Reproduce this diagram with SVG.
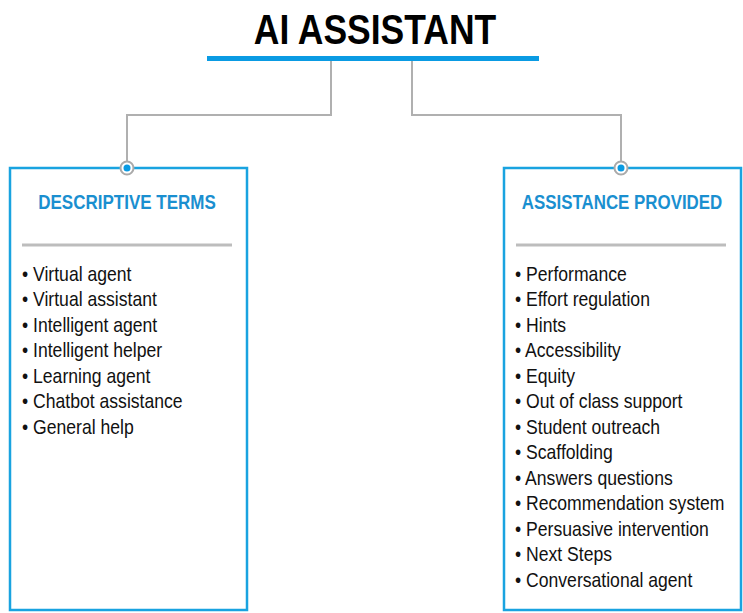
<svg xmlns="http://www.w3.org/2000/svg" width="743" height="613" viewBox="0 0 743 613">
<style>
.title{font-family:"Liberation Sans",Arial,sans-serif;font-weight:bold;font-size:43px;fill:#000}
.head{font-family:"Liberation Sans",Arial,sans-serif;font-weight:bold;font-size:21px;fill:#1a8fd0}
.item{font-family:"Liberation Sans",Arial,sans-serif;font-size:20px;fill:#111}
.box{fill:#fff;stroke:#19a3e0;stroke-width:2.5}
.sep{stroke:#bdbdbd;stroke-width:3}
.conn{fill:none;stroke:#b0b0b0;stroke-width:2}
.port{fill:#fff;stroke:#aaa;stroke-width:2}
.dot{fill:#0a9be3}
</style>
<rect width="743" height="613" fill="#fff"/>
<g id="root">
<text class="title" transform="translate(375,44) scale(0.825,1)" text-anchor="middle">AI ASSISTANT</text>
<rect x="207" y="56" width="332" height="5" fill="#0a9be3"/>
</g>
<g id="connectors">
<path class="conn" d="M331,61 V115 H127 V161"/>
<path class="conn" d="M412,61 V115 H621 V161"/>
</g>
<g id="descriptive-terms">
<rect class="box" x="10" y="168" width="237" height="442"/>
<circle class="port" cx="127" cy="168" r="6.5"/>
<circle class="dot" cx="127" cy="168" r="3.5"/>
<text class="head" transform="translate(127,209) scale(0.81,1)" text-anchor="middle">DESCRIPTIVE TERMS</text>
<line class="sep" x1="22" y1="245" x2="232" y2="245"/>
<g transform="translate(22,0) scale(0.88,1)">
<text class="item" x="0" y="281">• Virtual agent</text>
<text class="item" x="0" y="306.5">• Virtual assistant</text>
<text class="item" x="0" y="332">• Intelligent agent</text>
<text class="item" x="0" y="357.5">• Intelligent helper</text>
<text class="item" x="0" y="383">• Learning agent</text>
<text class="item" x="0" y="408.5">• Chatbot assistance</text>
<text class="item" x="0" y="434">• General help</text>
</g>
</g>
<g id="assistance-provided">
<rect class="box" x="504" y="168" width="237" height="442"/>
<circle class="port" cx="621" cy="168" r="6.5"/>
<circle class="dot" cx="621" cy="168" r="3.5"/>
<text class="head" transform="translate(622,209) scale(0.805,1)" text-anchor="middle">ASSISTANCE PROVIDED</text>
<line class="sep" x1="516" y1="245" x2="726" y2="245"/>
<g transform="translate(515,0) scale(0.88,1)">
<text class="item" x="0" y="281">• Performance</text>
<text class="item" x="0" y="306.5">• Effort regulation</text>
<text class="item" x="0" y="332">• Hints</text>
<text class="item" x="0" y="357.5">• Accessibility</text>
<text class="item" x="0" y="383">• Equity</text>
<text class="item" x="0" y="408.5">• Out of class support</text>
<text class="item" x="0" y="434">• Student outreach</text>
<text class="item" x="0" y="459.5">• Scaffolding</text>
<text class="item" x="0" y="485">• Answers questions</text>
<text class="item" x="0" y="510.5">• Recommendation system</text>
<text class="item" x="0" y="536">• Persuasive intervention</text>
<text class="item" x="0" y="561.5">• Next Steps</text>
<text class="item" x="0" y="587">• Conversational agent</text>
</g>
</g>
</svg>
